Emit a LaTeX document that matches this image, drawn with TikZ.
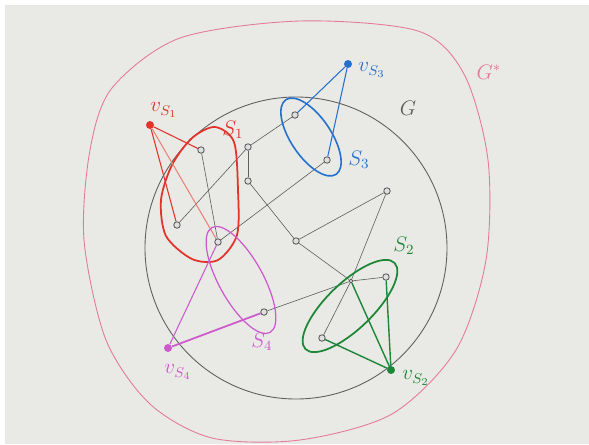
\documentclass[tikz,border=0pt]{standalone}
\usepackage{amsmath,amssymb}
\usepackage{tikz}
\usetikzlibrary{positioning,calc}
\usepackage{xcolor}

\definecolor{paper}{RGB}{233,233,230}
\definecolor{sred}{RGB}{226,50,42}
\definecolor{sredlight}{RGB}{236,130,118}
\definecolor{sblue}{RGB}{35,112,205}
\definecolor{sgreen}{RGB}{30,135,55}
\definecolor{spurple}{RGB}{205,90,205}
\definecolor{gpink}{RGB}{228,122,152}
\definecolor{pencil}{RGB}{95,95,95}

\tikzset{
    vtx/.style={circle, draw=pencil, fill=gray!25, line width=0.5pt, inner sep=1.3pt},
    svtx/.style={circle, fill=#1, inner sep=1.6pt},
    edge/.style={pencil, line width=0.35pt},
    lbl/.style={font=\large},
}

\begin{document}
\begin{tikzpicture}[x=0.02cm, y=-0.02cm]
    \useasboundingbox (0,0) rectangle (589,444);
    % papier
    \fill[white] (0,0) rectangle (589,444);
    \fill[paper] (5,5) rectangle (589,444);

    % G* (contour exterieur)
    \draw[gpink, line width=0.5pt] plot[smooth cycle] coordinates {
        (112,88) (180,38) (300,21) (418,31) (464,74) (488,160) (486,260)
        (456,350) (392,414) (300,440) (212,438) (150,404) (106,340)
        (84,240) (90,150)};
    \node[gpink, lbl] (gstar) at (489,72) {$G^{*}$};

    % G (cercle)
    \draw[pencil, line width=0.5pt] (296,248) circle [radius=151];
    \node[pencil, lbl] (g) at (408,108) {$G$};

    % sommets de G
    \node[vtx] (u1)  at (201,150) {};
    \node[vtx] (u2)  at (177,225) {};
    \node[vtx] (u3)  at (218,242) {};
    \node[vtx] (u4)  at (248,147) {};
    \node[vtx] (u5)  at (248,181) {};
    \node[vtx] (u6)  at (295,115) {};
    \node[vtx] (u7)  at (327,160) {};
    \node[vtx] (u8)  at (387,191) {};
    \node[vtx] (u9)  at (296,241) {};
    \node[vtx, inner sep=0.8pt] (u10) at (351,281) {};
    \node[vtx] (u11) at (386,277) {};
    \node[vtx] (u12) at (322,338) {};
    \node[vtx] (u13) at (264,312) {};

    % aretes de G
    \foreach \p/\q in {u1/u3, u2/u4, u4/u5, u4/u6, u5/u9, u3/u7, u9/u8,
                       u8/u10, u10/u12, u9/u10, u10/u11, u13/u10}
        \draw[edge] (\p) -- (\q);

    % S1
    \draw[sred, line width=1pt] plot[smooth cycle] coordinates {
        (215,127) (234,142) (238,190) (237,235) (218,260) (192,259)
        (166,236) (161,200) (172,165) (192,138)};
    \node[sred, lbl] (s1) at (233,130) {$S_1$};
    \node[svtx=sred] (vs1) at (150,125) {};
    \node[sred, lbl] (vs1l) at (164,110) {$v_{S_1}$};
    \draw[sred, line width=0.6pt] (vs1) -- (u1);
    \draw[sred, line width=0.6pt] (vs1) -- (u2);
    \draw[sredlight, line width=0.6pt] (vs1) -- (u3);

    % S3
    \draw[sblue, line width=0.9pt, rotate around={-56:(311,137)}]
        (311,137) ellipse [x radius=0.9cm, y radius=0.4cm];
    \node[sblue, lbl] (s3) at (359,160) {$S_3$};
    \node[svtx=sblue] (vs3) at (348,64) {};
    \node[sblue, lbl] (vs3l) at (372,70) {$v_{S_3}$};
    \draw[sblue, line width=0.6pt] (vs3) -- (u6);
    \draw[sblue, line width=0.6pt] (vs3) -- (u7);

    % S4
    \draw[spurple, line width=0.7pt, rotate around={-61:(241,280)}]
        (241,280) ellipse [x radius=1.2cm, y radius=0.44cm];
    \node[spurple, lbl] (s4) at (262,342) {$S_4$};
    \node[svtx=spurple] (vs4) at (168,348) {};
    \node[spurple, lbl] (vs4l) at (178,372) {$v_{S_4}$};
    \draw[spurple, line width=0.6pt] (vs4) -- (u3);
    \draw[spurple, line width=1pt] (vs4) -- (u13);

    % S2
    \draw[sgreen, line width=1pt, rotate around={44:(350,306)}]
        (350,306) ellipse [x radius=1.24cm, y radius=0.46cm];
    \node[sgreen, lbl] (s2) at (404,246) {$S_2$};
    \node[svtx=sgreen] (vs2) at (391,370) {};
    \node[sgreen, lbl] (vs2l) at (416,378) {$v_{S_2}$};
    \foreach \q in {u10, u11, u12}
        \draw[sgreen, line width=0.8pt] (vs2) -- (\q);
\end{tikzpicture}
\end{document}
